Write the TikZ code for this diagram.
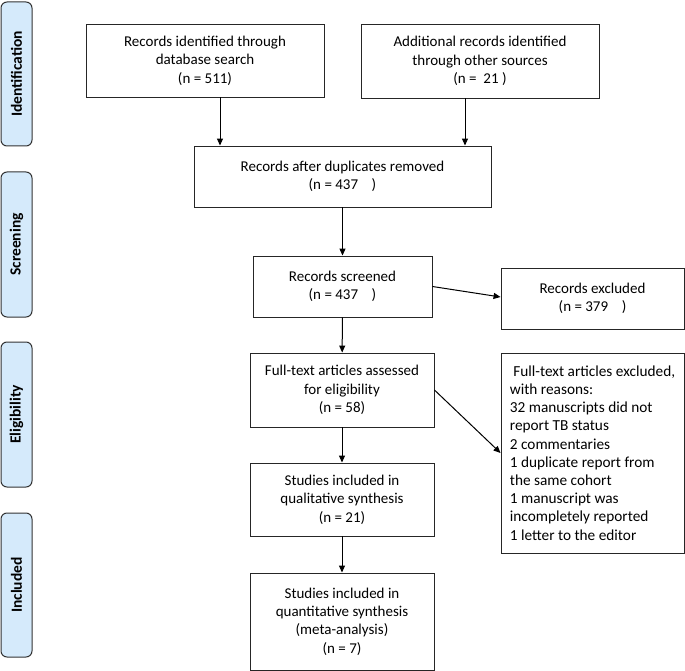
\documentclass[tikz,border=0pt]{standalone}
\usepackage{fontspec}
\setmainfont{Carlito}
\usetikzlibrary{positioning}
\usetikzlibrary{arrows.meta}

\tikzset{
  flowbox/.style={draw=black!85, line width=0.9pt, align=center, inner sep=3pt,
    font=\fontsize{15}{18.4}\selectfont},
  phasetab/.style={draw=black!80, line width=1pt, fill={rgb,255:red,213;green,234;blue,251},
    rounded corners=6pt, minimum width=31pt, rotate=90,
    font=\bfseries\fontsize{15.5}{16}\selectfont},
  arr/.style={-{Triangle[length=7pt,width=6pt]}, line width=1pt}
}

\begin{document}
\begin{tikzpicture}[x=1pt,y=1pt,yscale=-1,xscale=1]
\useasboundingbox (0,0) rectangle (685,671);

% Phase tabs
\node[phasetab, minimum height=31pt, minimum width=144pt] (tabid) at (16.5,74) {Identification};
\node[phasetab, minimum height=31pt, minimum width=145pt] (tabscr) at (16.5,244.5) {Screening};
\node[phasetab, minimum height=31pt, minimum width=145pt] (tabelig) at (16.5,414.5) {Eligibility};
\node[phasetab, minimum height=31pt, minimum width=144pt] (tabinc) at (16.5,585) {Included};

% Identification
\node[flowbox, minimum width=238pt, minimum height=73pt] (dbsearch) at (205,60.5)
  {Records identified through\\database search\\(n = 511)};
\node[flowbox, minimum width=238pt, minimum height=74pt] (othersrc) at (480,61)
  {Additional records identified\\through other sources\\(n =\ \ 21 )};

% Screening
\node[flowbox, minimum width=297pt, minimum height=61pt] (dedup) at (342.5,176.5)
  {Records after duplicates removed\\(n = 437\ \ \ \ )};
\node[flowbox, minimum width=179pt, minimum height=61pt] (screened) at (342.5,286.5)
  {Records screened\\(n = 437\ \ \ \ )};
\node[flowbox, minimum width=183pt, minimum height=61pt] (recexcl) at (592.5,298.5)
  {Records excluded\\(n = 379\ \ \ \ )};

% Eligibility
\node[flowbox, minimum width=183pt, minimum height=200pt, align=left,
  font=\fontsize{15.3}{18.2}\selectfont] (ftexcl) at (592.5,453)
  {\ Full-text articles excluded,\\with reasons:\\32 manuscripts did not\\report TB status\\2 commentaries\\1 duplicate report from\\the same cohort\\1 manuscript was\\incompletely reported\\1 letter to the editor};
\node[flowbox, minimum width=184pt, minimum height=74pt] (fulltext) at (342,390)
  {Full-text articles assessed\\for eligibility\\(n = 58)};

% Included
\node[flowbox, minimum width=184pt, minimum height=73pt] (qualsyn) at (342,499.5)
  {Studies included in\\qualitative synthesis\\(n = 21)};
\node[flowbox, minimum width=184pt, minimum height=97pt] (quantsyn) at (342,621.5)
  {Studies included in\\quantitative synthesis\\(meta-analysis)\\(n = 7)};

% Connections
\draw[arr] ([xshift=15pt]dbsearch.south) -- ([xshift=15pt]dbsearch.south |- dedup.north);
\draw[arr] ([xshift=-15pt]othersrc.south) -- ([xshift=-15pt]othersrc.south |- dedup.north);
\draw[arr] (dedup) -- (screened);
\draw[arr] (screened.east) -- ([yshift=-1.5pt]recexcl.west);
\draw[arr] (screened) -- (fulltext);
\draw[arr] (fulltext.east) -- (ftexcl.west);
\draw[arr] (fulltext) -- (qualsyn);
\draw[arr] (qualsyn) -- (quantsyn);

\end{tikzpicture}
\end{document}
